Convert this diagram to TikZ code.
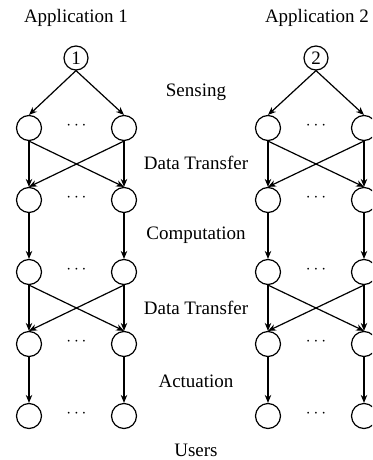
\documentclass[tikz,border=0pt]{standalone}
\usepackage{fontspec}
\setmainfont{Liberation Serif}
\usetikzlibrary{arrows.meta}
\begin{document}
\begin{tikzpicture}[x=1pt,y=-1pt,
  txt/.style={font=\fontsize{19}{22}\selectfont, inner sep=0pt},
  proc/.style={circle,draw,line width=1.2pt,minimum size=25pt,inner sep=0pt},
  src/.style={circle,draw,line width=1.2pt,minimum size=24pt,inner sep=0pt,font=\fontsize{19}{22}\selectfont},
  arr/.style={line width=1.2pt,-{Stealth[length=8pt,width=6.5pt]}}]
\clip (0,0) rectangle (372,460);
\useasboundingbox (0,0) rectangle (372,460);
% titles
\node[txt] (t1) at (76,18) {Application 1};
\node[txt] (t2) at (317,18) {Application 2};
% stage labels
\node[txt] (l1) at (196,92) {Sensing};
\node[txt] (l2) at (196,163) {Data Transfer};
\node[txt] (l3) at (196,235) {Computation};
\node[txt] (l4) at (196,308) {Data Transfer};
\node[txt] (l5) at (196,381) {Actuation};
\node[txt] (l6) at (196,450) {Users};
% sources
\node[src] (s1) at (76,58) {1};
\node[src] (s2) at (316,58) {2};
% node grid
\foreach \app/\xa/\xb in {1/29/124, 2/268/364} {
  \foreach \r/\y in {1/128,2/200,3/272,4/344,5/416} {
    \node[proc] (a\app r\r L) at (\xa,\y) {};
    \node[proc] (a\app r\r R) at (\xb,\y) {};
    \node[txt] (a\app r\r D) at ({(\xa+\xb)/2},\y-2) {$\cdots$};
  }
  \draw[arr] (s\app.south) -- (a\app r1L.north);
  \draw[arr] (s\app.south) -- (a\app r1R.north);
  \foreach \r/\s in {1/2,2/3,3/4,4/5} {
    \draw[arr] (a\app r\r L.south) -- (a\app r\s L.north);
    \draw[arr] (a\app r\r R.south) -- (a\app r\s R.north);
  }
  \foreach \r/\s in {1/2,3/4} {
    \draw[arr] (a\app r\r L.south) -- (a\app r\s R.north);
    \draw[arr] (a\app r\r R.south) -- (a\app r\s L.north);
  }
}
\end{tikzpicture}
\end{document}
